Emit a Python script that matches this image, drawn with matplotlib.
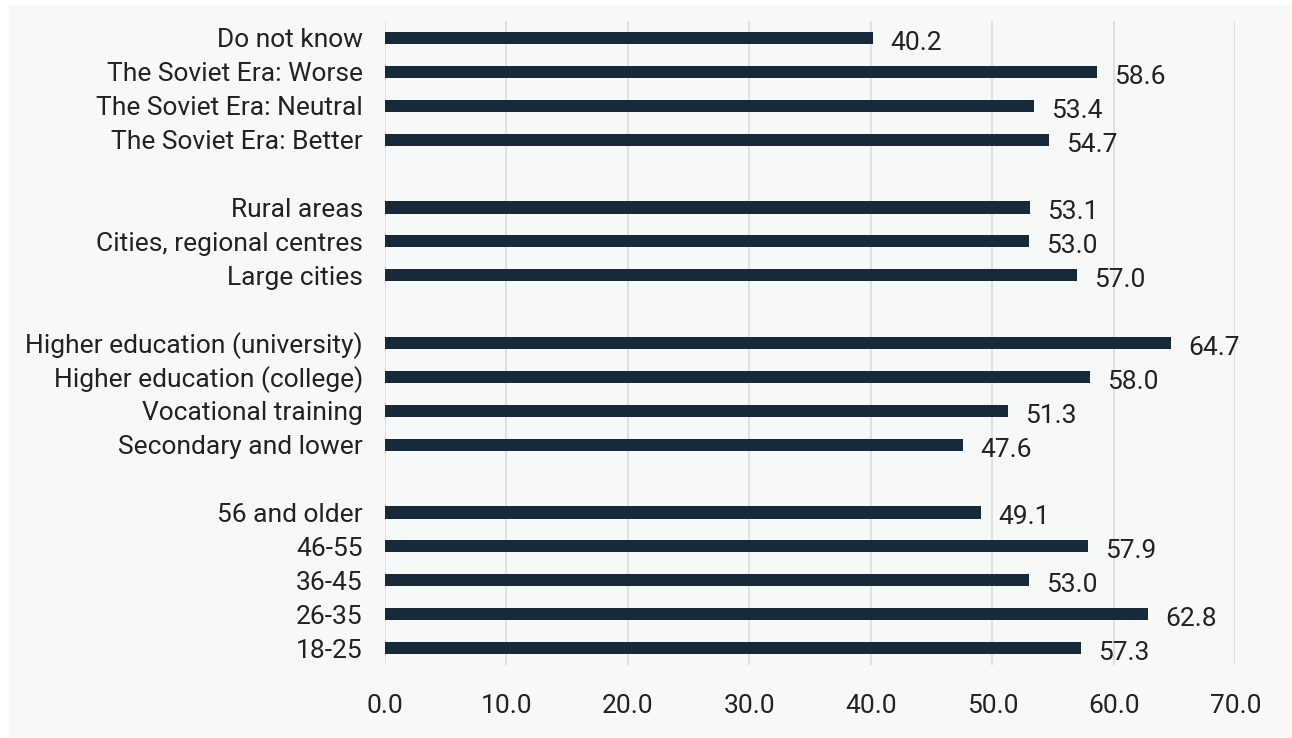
import numpy as np
import matplotlib
matplotlib.use('Agg')
import matplotlib.pyplot as plt
from matplotlib.patches import Rectangle

# ---- Data (bottom to top within each group) ----
age_labels = ["18-25", "26-35", "36-45", "46-55", "56 and older"]
age_values = [57.3, 62.8, 53.0, 57.9, 49.1]

edu_labels = ["Secondary and lower", "Vocational training",
              "Higher education (college)", "Higher education (university)"]
edu_values = [47.6, 51.3, 58.0, 64.7]

settle_labels = ["Large cities", "Cities, regional centres", "Rural areas"]
settle_values = [57.0, 53.0, 53.1]

soviet_labels = ["The Soviet Era: Better", "The Soviet Era: Neutral",
                 "The Soviet Era: Worse", "Do not know"]
soviet_values = [54.7, 53.4, 58.6, 40.2]

x_ticks = [0, 10, 20, 30, 40, 50, 60, 70]

groups = [(age_labels, age_values), (edu_labels, edu_values),
          (settle_labels, settle_values), (soviet_labels, soviet_values)]

# ---- Build positions with a blank row between groups ----
labels, values, ypos = [], [], []
y = 0
for gl, gv in groups:
    for lab, val in zip(gl, gv):
        labels.append(lab)
        values.append(val)
        ypos.append(y)
        y += 1
    y += 1
n_rows = y - 1

BAR = '#172a3a'
TXT = '#222222'
BG = '#f7f9f9'

plt.rcParams['font.family'] = ['Roboto', 'DejaVu Sans']

fig = plt.figure(figsize=(12.92, 7.38), dpi=100)
fig.patches.append(Rectangle((9 / 1292, 0), 1 - 9 / 1292, 1 - 5 / 738,
                             transform=fig.transFigure, facecolor=BG,
                             edgecolor='none', zorder=-10))
ax = fig.add_axes([385 / 1292, 1 - 665 / 738, (1235.3 - 385) / 1292, (665 - 21) / 738])
ax.set_facecolor('none')

ax.barh(ypos, values, height=0.36, color=BAR, zorder=3)
for yy, v in zip(ypos, values):
    ax.annotate(f"{v:.1f}", (v, yy), xytext=(17, -5), textcoords='offset pixels',
                ha='left', va='center', fontsize=19, color=TXT)

ax.set_xlim(0, 70)
ax.set_ylim(-0.5, n_rows - 0.5)
ax.set_xticks(x_ticks)
ax.set_xticklabels([f"{t:.1f}" for t in x_ticks])
ax.set_yticks(ypos)
ax.set_yticklabels(labels)
ax.tick_params(axis='x', length=0, pad=21, labelsize=19, labelcolor=TXT)
ax.tick_params(axis='y', length=0, pad=16, labelsize=19, labelcolor=TXT)
ax.grid(axis='x', color='#e0e0e0', linewidth=1.5, zorder=0)
for s in ax.spines.values():
    s.set_visible(False)

plt.savefig("out.png", dpi=100)
plt.close()
